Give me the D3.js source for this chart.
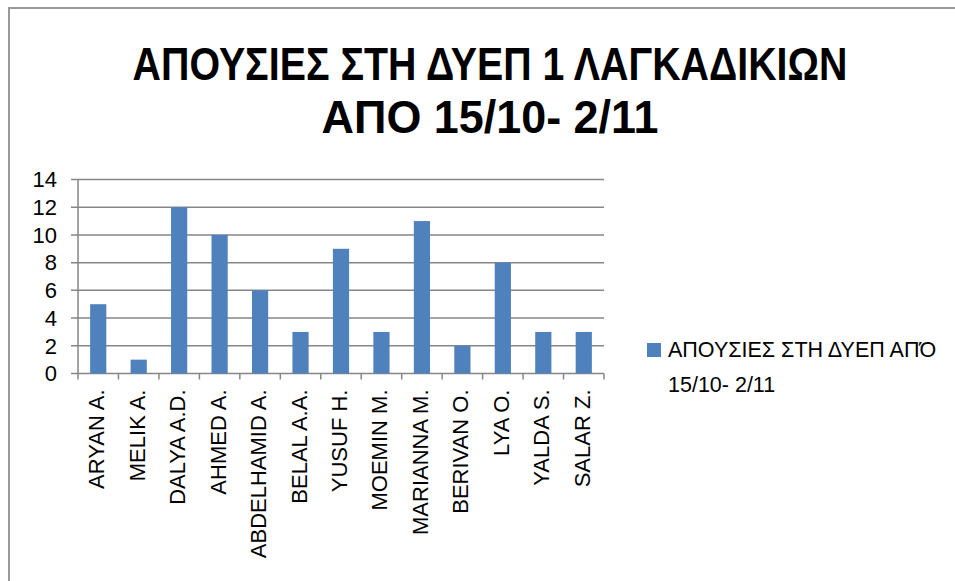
<!DOCTYPE html>
<html><head><meta charset="utf-8">
<script src="https://cdn.jsdelivr.net/npm/d3@7"></script>
<style>body{margin:0;background:#fff}svg{display:block}</style>
</head><body>
<script>
const categories = ["ARYAN A.","MELIK A.","DALYA A.D.","AHMED A.","ABDELHAMID A.","BELAL A.A.","YUSUF H.","MOEMIN M.","MARIANNA M.","BERIVAN O.","LYA O.","YALDA S.","SALAR Z."];
const values = [5,1,12,10,6,3,9,3,11,2,8,3,3];
const yTicks = [0,2,4,6,8,10,12,14];
const titleLines = ["ΑΠΟΥΣΙΕΣ ΣΤΗ ΔΥΕΠ 1 ΛΑΓΚΑΔΙΚΙΩΝ","ΑΠΟ 15/10- 2/11"];
const legendLines = ["ΑΠΟΥΣΙΕΣ ΣΤΗ ΔΥΕΠ ΑΠΌ","15/10- 2/11"];

const W=955,H=581;
const svg=d3.select("body").append("svg").attr("width",W).attr("height",H);
const font="'Liberation Sans',Arial,sans-serif";
svg.append("rect").attr("x",9).attr("y",8).attr("width",W+10).attr("height",H+10)
  .attr("fill","#fff").attr("stroke","#999").attr("stroke-width",2);

const L=78,R=604,T=179.5,B=373.5;
const x=d3.scaleBand().domain(categories).range([L,R]).paddingInner(0.6).paddingOuter(0.3);
const xb=d3.scaleBand().domain(categories).range([L,R]);
const y=d3.scaleLinear().domain([0,14]).range([B,T]);

// gridlines
svg.append("g").selectAll("line").data(yTicks).join("line")
  .attr("x1",L-7).attr("x2",R).attr("y1",d=>y(d)).attr("y2",d=>y(d))
  .attr("stroke","#868686").attr("stroke-width",1.5);
// y axis line
svg.append("line").attr("x1",L).attr("x2",L).attr("y1",T).attr("y2",B+6).attr("stroke","#868686").attr("stroke-width",1.5);
// x ticks
svg.append("g").selectAll("line").data(categories).join("line")
  .attr("x1",d=>xb(d)+xb.bandwidth()).attr("x2",d=>xb(d)+xb.bandwidth())
  .attr("y1",B).attr("y2",B+6).attr("stroke","#868686").attr("stroke-width",1.5);

// bars
svg.append("g").selectAll("rect").data(values).join("rect")
  .attr("x",(d,i)=>x(categories[i])).attr("width",x.bandwidth())
  .attr("y",d=>y(d)).attr("height",d=>B-y(d)).attr("fill","#4F81BD");

// y labels
svg.append("g").selectAll("text").data(yTicks).join("text")
  .attr("x",57).attr("y",d=>y(d)+7.8).attr("text-anchor","end")
  .attr("font-family",font).attr("font-size",22).attr("fill","#000").text(d=>d);

// x labels
svg.append("g").selectAll("text").data(categories).join("text")
  .attr("transform",d=>`translate(${xb(d)+xb.bandwidth()/2+6},${B+16}) rotate(-90)`)
  .attr("text-anchor","end").attr("font-family",font).attr("font-size",22).attr("fill","#000").text(d=>d);

// title (condensed horizontally to mimic the narrow original face)
const tw=[715,337];
titleLines.forEach((line,i)=>{
  const g=svg.append("g");
  const t=g.append("text").attr("x",0).attr("y",0).attr("text-anchor","middle")
    .attr("font-family",font).attr("font-weight","bold").attr("font-size",46).text(line);
  const nat=t.node().getComputedTextLength();
  g.attr("transform",`translate(490,${80+i*53}) scale(${tw[i]/nat},1)`);
});

// legend
svg.append("rect").attr("x",647).attr("y",343).attr("width",14).attr("height",14).attr("fill","#4F81BD");
svg.append("g").selectAll("text").data(legendLines).join("text")
  .attr("x",668).attr("y",(d,i)=>357+i*35).attr("font-family",font).attr("font-size",21.5).text(d=>d);
</script>
</body></html>
